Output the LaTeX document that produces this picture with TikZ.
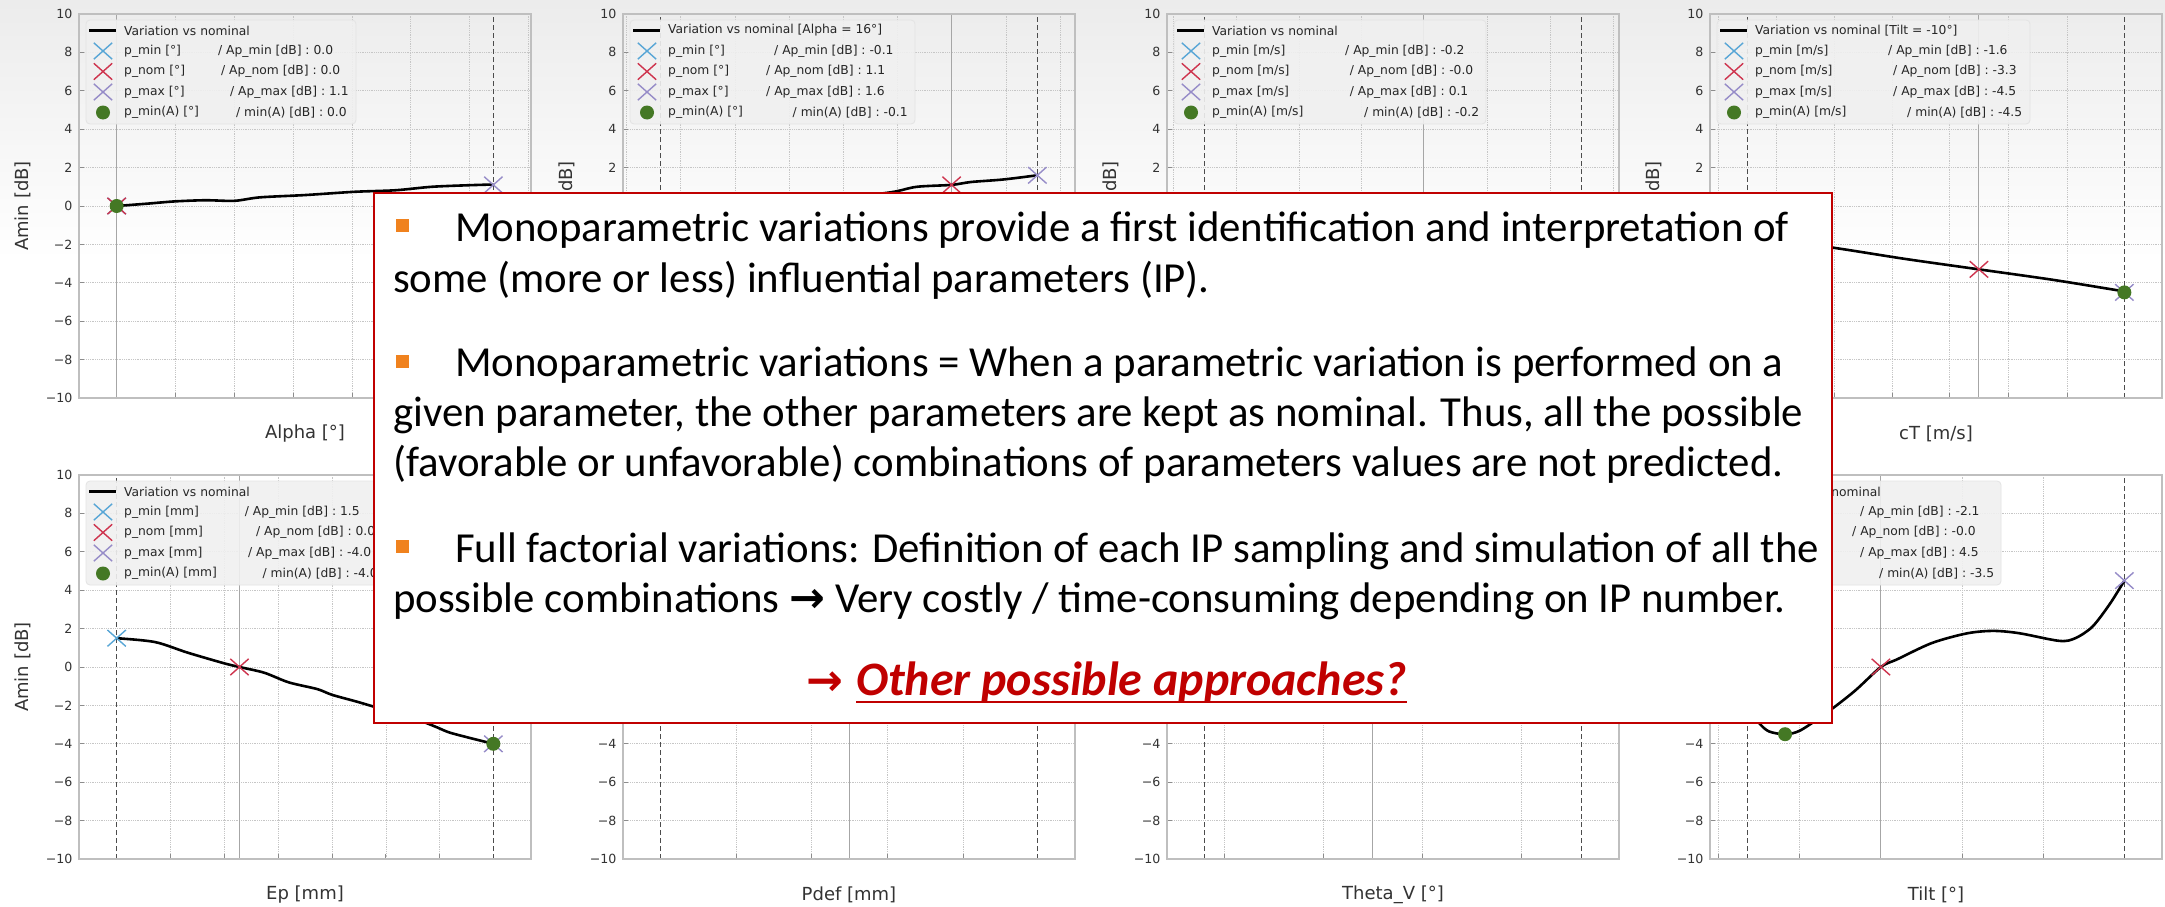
\documentclass[tikz,border=0pt]{standalone}
\usepackage{fontspec}
\setmainfont{DejaVu Sans}
\newfontfamily\slidefont{Carlito}
\newfontfamily\arrowfont{DejaVu Sans}
\usetikzlibrary{shapes.misc}

\definecolor{pmincol}{RGB}{88,166,214}
\definecolor{pnomcol}{RGB}{206,52,78}
\definecolor{pmaxcol}{RGB}{150,140,200}
\definecolor{dotgreen}{RGB}{68,120,36}
\definecolor{boxred}{RGB}{192,0,0}
\definecolor{bulletorange}{RGB}{240,130,30}

\tikzset{
  gridline/.style={draw=gray!45, line width=0.8pt, densely dotted},
  limline/.style={draw=black!70, line width=0.9pt, dash pattern=on 5pt off 3pt},
  nomline/.style={draw=black!35, line width=1pt},
  frameline/.style={draw=black!25, line width=1.4pt},
  tickline/.style={draw=black!45, line width=1pt},
  varline/.style={draw=black, line width=2.6pt, line join=round},
  xmark/.style={cross out, draw=#1, line width=1.4pt, minimum width=17pt, minimum height=15pt, inner sep=0pt},
  dotmark/.style={circle, fill=dotgreen, minimum size=14pt, inner sep=0pt},
  ticklabel/.style={anchor=east, inner sep=0pt, font=\fontsize{12.6}{14}\selectfont, text=black!80},
  axislabel/.style={inner sep=0pt, font=\fontsize{18}{20}\selectfont, text=black!80},
  legendtext/.style={anchor=west, inner sep=0pt, font=\fontsize{12.3}{14}\selectfont, text=black!85},
  legendbox/.style={fill=gray!12, draw=gray!22, line width=0.8pt, rounded corners=4pt, fill opacity=0.9},
  panel/.style 2 args={shift={(#1,#2)}, x=452pt, y=19.2pt},
  legendarea/.style={shift={(0,10)}, x=1pt, y=-1pt},
  notebox/.style={draw=boxred, fill=white, line width=2pt, inner sep=0pt},
  bulletsq/.style={fill=bulletorange, minimum size=13pt, inner sep=0pt, anchor=south west},
  bodytext/.style={anchor=base west, inner sep=0pt, font=\slidefont\fontsize{42.8}{50}\selectfont},
}

% grid, frame and ticks of one plot (u from 0 to 1, y in dB)
\newcommand{\axesgrid}[4]{%
  \foreach \v in {-8,-6,...,8} \draw[gridline] (0,\v) -- (1,\v);
  \foreach \u in {#2} {
    \draw[gridline] (\u,-10) -- (\u,10);
    \draw[tickline] (\u,-10) -- ++(0,0.26);
  }
  \foreach \v in {-8,-6,...,8} \draw[tickline] (0,\v) -- ++(0.011,0);
  \draw[limline] (0.0833,-10) -- (0.0833,10);
  \draw[limline] (0.9167,-10) -- (0.9167,10);
  \draw[nomline] (#1,-10) -- (#1,10);
  \draw[frameline] (0,-10) rectangle (1,10);
  \foreach \v [count=\k] in {#4}
    \node[ticklabel] (#3yt\k) at (-0.014,\v) {\ifnum\v<0 −\the\numexpr-\v\relax\else\v\fi};
}

% legend frame, line sample and markers
\newcommand{\legendhead}[3]{%
  \draw[legendbox] (7,6) rectangle (#2,110);
  \draw[varline] (10,16.5) -- (37,16.5);
  \node[legendtext] (#1title) at (45,16.5) {#3};
  \node[xmark=pmincol] (#1lmin) at (24,37) {};
  \node[xmark=pnomcol] (#1lnom) at (24,57.5) {};
  \node[xmark=pmaxcol] (#1lmax) at (24,78) {};
  \node[dotmark] (#1lmina) at (24,98.5) {};
}

\begin{document}
\begin{tikzpicture}[x=1pt, y=-1pt]
  \useasboundingbox (0,0) rectangle (2165,907);
  \fill[white] (0,0) rectangle (2165,907);
  \shade[top color=gray!15, bottom color=white] (0,0) rectangle (2165,260);

  % Alpha
  \begin{scope}[panel={79}{206}]
    \axesgrid{0.0833}{0.214,0.344,0.474,0.604,0.734,0.864,0.994}{pa}{-10,-8,...,10}
    \node[axislabel] (paxl) at (0.5,-11.85) {Alpha [°]};
    \node[axislabel, rotate=90] (payl) at (-0.124,0) {Amin [dB]};
    \draw[varline] plot[smooth] coordinates {(0.0833,0) (0.15,0.12) (0.212,0.24) (0.28,0.3) (0.344,0.27) (0.40,0.45) (0.50,0.57) (0.61,0.74) (0.70,0.82) (0.78,1.0) (0.86,1.08) (0.9167,1.12)};
    \node[xmark=pmincol] (pamin) at (0.0833,0) {};
    \node[xmark=pnomcol] (panom) at (0.0833,0) {};
    \node[xmark=pmaxcol] (pamax) at (0.9167,1.1) {};
    \node[dotmark] (pamina) at (0.0833,0) {};
    \begin{scope}[legendarea]
      \legendhead{pa}{277}{Variation vs nominal}
      \foreach \yy/\ca/\xb/\cb [count=\i] in {37/{p\_min [°]}/139/{/ Ap\_min [dB] : 0.0}, 57.5/{p\_nom [°]}/142/{/ Ap\_nom [dB] : 0.0}, 78/{p\_max [°]}/151/{/ Ap\_max [dB] : 1.1}, 98.5/{p\_min(A) [°]}/157/{/ min(A) [dB] : 0.0}}
        {\node[legendtext] (pala\i) at (45,\yy) {\ca};
         \node[legendtext] (palb\i) at (\xb,\yy) {\cb};}
    \end{scope}
  \end{scope}

  % Alpha = 16
  \begin{scope}[panel={623}{206}]
    \axesgrid{0.727}{0.008,0.128,0.248,0.368,0.488,0.608,0.848,0.968}{pb}{2,4,...,10}
    \node[axislabel, rotate=90] (pbyl) at (-0.124,0) {Amin [dB]};
    \draw[varline] plot[smooth] coordinates {(0.0833,-0.1) (0.2,0.0) (0.35,0.15) (0.48,0.4) (0.594,0.72) (0.65,1.0) (0.727,1.1) (0.77,1.25) (0.841,1.38) (0.9167,1.6)};
    \node[xmark=pnomcol] (pbnom) at (0.727,1.1) {};
    \node[xmark=pmaxcol] (pbmax) at (0.9167,1.6) {};
    \begin{scope}[legendarea]
      \legendhead{pb}{292}{Variation vs nominal [Alpha = 16°]}
      \foreach \yy/\ca/\xb/\cb [count=\i] in {37/{p\_min [°]}/151/{/ Ap\_min [dB] : -0.1}, 57.5/{p\_nom [°]}/143/{/ Ap\_nom [dB] : 1.1}, 78/{p\_max [°]}/143/{/ Ap\_max [dB] : 1.6}, 98.5/{p\_min(A) [°]}/169.5/{/ min(A) [dB] : -0.1}}
        {\node[legendtext] (pbla\i) at (45,\yy) {\ca};
         \node[legendtext] (pblb\i) at (\xb,\yy) {\cb};}
    \end{scope}
  \end{scope}

  % cT
  \begin{scope}[panel={1167}{206}]
    \axesgrid{0.567}{0.014,0.153,0.292,0.431,0.709,0.848,0.987}{pc}{2,4,...,10}
    \node[axislabel, rotate=90] (pcyl) at (-0.124,0) {Amin [dB]};
    \begin{scope}[legendarea]
      \legendhead{pc}{319}{Variation vs nominal}
      \foreach \yy/\ca/\xb/\cb [count=\i] in {37/{p\_min [m/s]}/178/{/ Ap\_min [dB] : -0.2}, 57.5/{p\_nom [m/s]}/182.6/{/ Ap\_nom [dB] : -0.0}, 78/{p\_max [m/s]}/182.6/{/ Ap\_max [dB] : 0.1}, 98.5/{p\_min(A) [m/s]}/197/{/ min(A) [dB] : -0.2}}
        {\node[legendtext] (pcla\i) at (45,\yy) {\ca};
         \node[legendtext] (pclb\i) at (\xb,\yy) {\cb};}
    \end{scope}
  \end{scope}

  % cT, Tilt = -10
  \begin{scope}[panel={1710}{206}]
    \axesgrid{0.595}{0.018,0.147,0.275,0.403,0.53,0.66,0.79}{pd}{2,4,...,10}
    \node[axislabel] (pdxl) at (0.5,-11.85) {cT [m/s]};
    \node[axislabel, rotate=90] (pdyl) at (-0.124,0) {Amin [dB]};
    \draw[varline] plot[smooth] coordinates {(0.0833,-1.6) (0.266,-2.15) (0.43,-2.75) (0.595,-3.3) (0.76,-3.85) (0.9167,-4.45)};
    \node[xmark=pnomcol] (pdnom) at (0.595,-3.3) {};
    \node[xmark=pmaxcol] (pdmax) at (0.9167,-4.5) {};
    \node[dotmark] (pdmina) at (0.9167,-4.5) {};
    \begin{scope}[legendarea]
      \legendhead{pd}{320}{Variation vs nominal [Tilt = -10°]}
      \foreach \yy/\ca/\xb/\cb [count=\i] in {37/{p\_min [m/s]}/178/{/ Ap\_min [dB] : -1.6}, 57.5/{p\_nom [m/s]}/183/{/ Ap\_nom [dB] : -3.3}, 78/{p\_max [m/s]}/183/{/ Ap\_max [dB] : -4.5}, 98.5/{p\_min(A) [m/s]}/197/{/ min(A) [dB] : -4.5}}
        {\node[legendtext] (pdla\i) at (45,\yy) {\ca};
         \node[legendtext] (pdlb\i) at (\xb,\yy) {\cb};}
    \end{scope}
  \end{scope}

  % Ep
  \begin{scope}[panel={79}{667}]
    \axesgrid{0.355}{0.203,0.322,0.441,0.56,0.679,0.798}{pe}{-10,-8,...,10}
    \node[axislabel] (pexl) at (0.5,-11.85) {Ep [mm]};
    \node[axislabel, rotate=90] (peyl) at (-0.124,0) {Amin [dB]};
    \draw[varline] plot[smooth] coordinates {(0.0833,1.5) (0.168,1.3) (0.24,0.75) (0.32,0.2) (0.355,0.0) (0.41,-0.3) (0.464,-0.8) (0.527,-1.15) (0.56,-1.45) (0.614,-1.8) (0.65,-2.05) (0.7,-2.4) (0.755,-2.8) (0.793,-3.15) (0.825,-3.45) (0.9167,-4.0)};
    \node[xmark=pmincol] (pemin) at (0.0833,1.5) {};
    \node[xmark=pnomcol] (penom) at (0.355,0) {};
    \node[xmark=pmaxcol] (pemax) at (0.9167,-4.0) {};
    \node[dotmark] (pemina) at (0.9167,-4.0) {};
    \begin{scope}[legendarea]
      \legendhead{pe}{310}{Variation vs nominal}
      \foreach \yy/\ca/\xb/\cb [count=\i] in {37/{p\_min [mm]}/165.6/{/ Ap\_min [dB] : 1.5}, 57.5/{p\_nom [mm]}/177/{/ Ap\_nom [dB] : 0.0}, 78/{p\_max [mm]}/169/{/ Ap\_max [dB] : -4.0}, 98.5/{p\_min(A) [mm]}/183.5/{/ min(A) [dB] : -4.0}}
        {\node[legendtext] (pela\i) at (45,\yy) {\ca};
         \node[legendtext] (pelb\i) at (\xb,\yy) {\cb};}
    \end{scope}
  \end{scope}

  % Pdef
  \begin{scope}[panel={623}{667}]
    \axesgrid{0.5}{0.25,0.417,0.585,0.753}{pf}{-10,-8,...,-4}
    \node[axislabel] (pfxl) at (0.5,-11.85) {Pdef [mm]};
  \end{scope}

  % Theta_V
  \begin{scope}[panel={1167}{667}]
    \axesgrid{0.455}{0.127,0.346,0.565,0.784}{pg}{-10,-8,...,-4}
    \node[axislabel] (pgxl) at (0.5,-11.85) {Theta\_V [°]};
  \end{scope}

  % Tilt
  \begin{scope}[panel={1710}{667}]
    \axesgrid{0.378}{0.018,0.198,0.558,0.738}{ph}{-10,-8,...,-4}
    \node[axislabel] (phxl) at (0.5,-11.85) {Tilt [°]};
    \draw[varline] plot[smooth] coordinates {(0.0833,-2.1) (0.108,-2.9) (0.13,-3.35) (0.166,-3.5) (0.2,-3.3) (0.26,-2.35) (0.32,-1.25) (0.378,0.0) (0.414,0.4) (0.491,1.25) (0.568,1.75) (0.626,1.88) (0.684,1.76) (0.773,1.36) (0.808,1.5) (0.846,2.1) (0.885,3.3) (0.9167,4.5)};
    \node[xmark=pnomcol] (phnom) at (0.378,0) {};
    \node[xmark=pmaxcol] (phmax) at (0.9167,4.5) {};
    \node[dotmark] (phmina) at (0.166,-3.5) {};
    \begin{scope}[legendarea]
      \legendhead{ph}{291}{Variation vs nominal}
      \foreach \yy/\xb/\cb [count=\i] in {37/150/{/ Ap\_min [dB] : -2.1}, 57.5/142/{/ Ap\_nom [dB] : -0.0}, 78/150/{/ Ap\_max [dB] : 4.5}, 98.5/169/{/ min(A) [dB] : -3.5}}
        {\node[legendtext] (phlb\i) at (\xb,\yy) {\cb};}
    \end{scope}
  \end{scope}

  % Text box on top
  \node[notebox, anchor=north west, minimum width=1458pt, minimum height=530pt] (note) at (373,192) {};
  \node[bulletsq] (b1) at (396,232) {};
  \node[bodytext] (l1) at (455,241) {Monoparametric variations provide a first identification and interpretation of};
  \node[bodytext] (l2) at (393,292) {some (more or less) influential parameters (IP).};
  \node[bulletsq] (b2) at (396,368) {};
  \node[bodytext] (l3) at (455,376) {Monoparametric variations = When a parametric variation is performed on a};
  \node[bodytext] (l4) at (393,426) {given parameter, the other parameters are kept as nominal. Thus, all the possible};
  \node[bodytext] (l5) at (393,476) {(favorable or unfavorable) combinations of parameters values are not predicted.};
  \node[bulletsq] (b3) at (396,553) {};
  \node[bodytext] (l6) at (455,562) {Full factorial variations: Definition of each IP sampling and simulation of all the};
  \node[bodytext] (l7) at (393,612) {possible combinations {\arrowfont\bfseries →} Very costly / time-consuming depending on IP number.};
  \node[bodytext, text=boxred, font=\slidefont\bfseries\itshape\fontsize{48}{56}\selectfont] (other) at (856,695) {Other possible approaches?};
  \node[anchor=base east, inner sep=0pt, text=boxred, font=\arrowfont\bfseries\fontsize{44}{50}\selectfont] (otherarrow) at ([xshift=-12pt]other.base west) {→};
  \draw[boxred, line width=2.8pt] ([yshift=-7pt]other.base west) -- ([yshift=-7pt]other.base east);
\end{tikzpicture}
\end{document}
